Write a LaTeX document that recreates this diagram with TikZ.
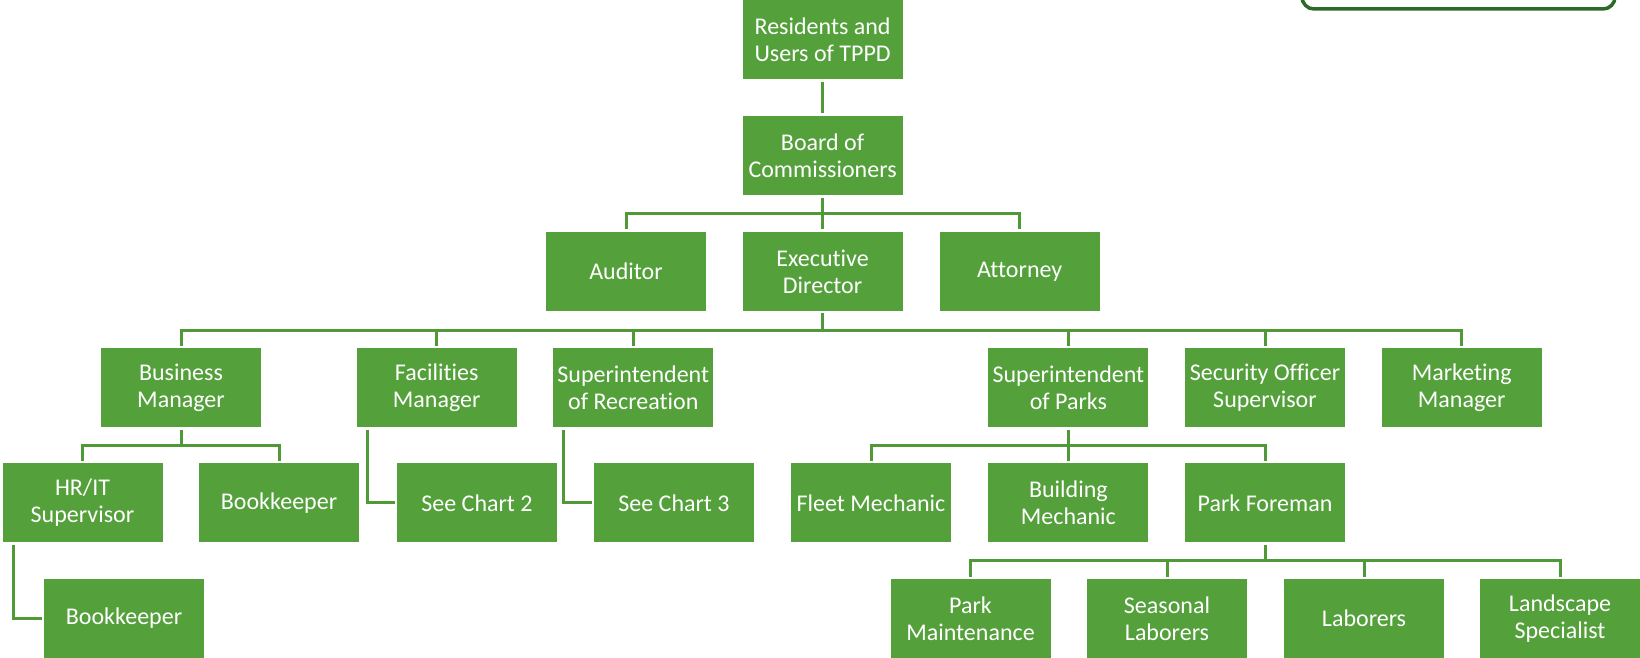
\documentclass[tikz,border=0pt]{standalone}
\usepackage{fontspec}
\setmainfont{Carlito}[Ligatures={NoCommon,NoContextual},RawFeature={-liga;-clig}]
\definecolor{boxgreen}{HTML}{54A03B}
\definecolor{linegreen}{HTML}{4F9A37}
\definecolor{darkgreen}{HTML}{2D6A2A}
\begin{document}
\begin{tikzpicture}[x=1pt,y=-1pt,
  orgbox/.style={fill=boxgreen, text=white, minimum width=160pt, minimum height=79pt,
    inner sep=0pt, outer sep=2.5pt, align=center, font=\fontsize{24}{27}\selectfont},
  conn/.style={draw=linegreen, line width=3pt}]
\useasboundingbox (0,0) rectangle (1640,658);
\clip (0,0) rectangle (1640,658);
\draw[darkgreen, line width=3.5pt, rounded corners=12pt] (1302,-40) rectangle (1615,9);
% row 0-2
\node[orgbox] (res) at (822.6,39.7) {Residents and\\Users of TPPD};
\node[orgbox] (board) at (822.6,155.5) {Board of\\Commissioners};
\node[orgbox] (aud) at (626,271.4) {Auditor};
\node[orgbox] (exec) at (822.6,271.4) {Executive\\Director};
\node[orgbox] (att) at (1019.7,271.4) {Attorney};
% row 3
\node[orgbox] (bm) at (181,387.5) {Business\\Manager};
\node[orgbox] (fm) at (436.7,387.5) {Facilities\\Manager};
\node[orgbox] (sr) at (633.3,387.5) {Superintendent\\of Recreation};
\node[orgbox] (sp) at (1068.4,387.5) {Superintendent\\of Parks};
\node[orgbox] (so) at (1265,387.5) {Security Officer\\Supervisor};
\node[orgbox] (mm) at (1461.7,387.5) {Marketing\\Manager};
% row 4
\node[orgbox] (hr) at (82.5,502.9) {HR/IT\\Supervisor};
\node[orgbox] (bk1) at (279,502.9) {Bookkeeper};
\node[orgbox] (sc2) at (477,502.9) {See Chart 2};
\node[orgbox] (sc3) at (674,502.9) {See Chart 3};
\node[orgbox] (fleet) at (871,502.9) {Fleet Mechanic};
\node[orgbox] (bmech) at (1068.4,502.9) {Building\\Mechanic};
\node[orgbox] (pf) at (1265,502.9) {Park Foreman};
% row 5
\node[orgbox] (bk2) at (124,618.5) {Bookkeeper};
\node[orgbox] (pm) at (970.5,618.5) {Park\\Maintenance};
\node[orgbox] (sl) at (1167,618.5) {Seasonal\\Laborers};
\node[orgbox] (lab) at (1364,618.5) {Laborers};
\node[orgbox] (ls) at (1560,618.5) {Landscape\\Specialist};
% junctions
\coordinate (j1) at (822.6,213.3);
\coordinate (j2) at (822.6,330);
\coordinate (j3) at (181,445);
\coordinate (j4) at (1068.4,445);
\coordinate (j5) at (1265,560.6);
% connectors
\draw[conn] (res.south) -- (board.north);
\draw[conn] (board.south) -- (exec.north);
\draw[conn] (aud.north) |- (j1) -| (att.north);
\draw[conn] (exec.south) -- (j2);
\draw[conn] (bm.north) |- (j2) -| (mm.north);
\draw[conn] (fm.north) -- (fm.north |- j2);
\draw[conn] (sr.north) -- (sr.north |- j2);
\draw[conn] (sp.north) -- (sp.north |- j2);
\draw[conn] (so.north) -- (so.north |- j2);
\draw[conn] (bm.south) -- (j3);
\draw[conn] (hr.north) |- (j3) -| (bk1.north);
\draw[conn] ([xshift=13pt]fm.south west) |- (sc2.west);
\draw[conn] ([xshift=13pt]sr.south west) |- (sc3.west);
\draw[conn] ([xshift=13pt]hr.south west) |- (bk2.west);
\draw[conn] (sp.south) -- (bmech.north);
\draw[conn] (fleet.north) |- (j4) -| (pf.north);
\draw[conn] (pf.south) -- (j5);
\draw[conn] (pm.north) |- (j5) -| (ls.north);
\draw[conn] (sl.north) -- (sl.north |- j5);
\draw[conn] (lab.north) -- (lab.north |- j5);
\end{tikzpicture}
\end{document}
